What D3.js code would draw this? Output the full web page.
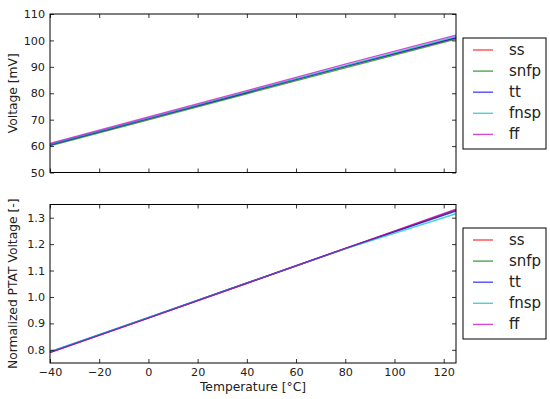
<!DOCTYPE html>
<html>
<head>
<meta charset="utf-8">
<script src="https://cdn.jsdelivr.net/npm/d3@7"></script>
<style>
  body { margin: 0; background: #fff; }
  svg { display: block; font-family: "DejaVu Sans", sans-serif; }
</style>
</head>
<body>
<svg id="chart" width="550" height="399"></svg>
<script>
var temps = [-40, 0, 40, 80, 125];

var corners = ["ss", "snfp", "tt", "fnsp", "ff"];
var cornerColors = ["#ff0000", "#008000", "#0000ff", "#00bfbf", "#bf00bf"];

// voltage [mV] per corner
var voltSS   = [60.4, 70.3, 80.2, 90.1, 100.9];
var voltSNFP = [60.1, 69.9, 79.8, 89.6, 100.5];
var voltTT   = [60.5, 70.4, 80.3, 90.2, 101.0];
var voltFNSP = [60.7, 70.6, 80.5, 90.4, 101.5];
var voltFF   = [61.0, 71.0, 81.0, 91.0, 102.0];

// normalized PTAT voltage per corner
var normSS   = [0.790, 0.921, 1.052, 1.183, 1.330];
var normSNFP = [0.790, 0.921, 1.052, 1.183, 1.328];
var normTT   = [0.792, 0.922, 1.053, 1.184, 1.325];
var normFNSP = [0.793, 0.923, 1.053, 1.182, 1.315];
var normFF   = [0.789, 0.920, 1.052, 1.184, 1.332];

var xTicks = [-40, -20, 0, 20, 40, 60, 80, 100, 120];
var voltTicks = [50, 60, 70, 80, 90, 100, 110];
var normTicks = [0.8, 0.9, 1.0, 1.1, 1.2, 1.3];

var svg = d3.select("#chart");
var left = 50, right = 456;

var x = d3.scaleLinear().domain([-40, 125]).range([left, right]);

function drawPanel(top, bottom, yDomain, yTicks, yFmt, series, yLabel, showXLabels, legendTop){
    var y = d3.scaleLinear().domain(yDomain).range([bottom, top]);
    var g = svg.append("g");

    // lines
    var line = d3.line()
        .x(function(d){ return x(d[0]); })
        .y(function(d){ return y(d[1]); });
    series.forEach(function(vals, i){
        var pts = temps.map(function(t, j){ return [t, vals[j]]; });
        g.append("path")
            .attr("d", line(pts))
            .attr("fill", "none")
            .attr("stroke", cornerColors[i])
            .attr("stroke-opacity", 0.7)
            .attr("stroke-width", 1.4);
    });

    // ticks on all four sides, pointing inward (classic matplotlib)
    var tl = 4;
    var axB = d3.axisBottom(x).tickValues(xTicks).tickSizeInner(-tl).tickSizeOuter(0)
        .tickFormat(showXLabels ? function(d){ return d < 0 ? "\u2212" + Math.abs(d) : d; } : "");
    var axT = d3.axisTop(x).tickValues(xTicks).tickSizeInner(-tl).tickSizeOuter(0).tickFormat("");
    var axL = d3.axisLeft(y).tickValues(yTicks).tickSizeInner(-tl).tickSizeOuter(0).tickFormat(yFmt);
    var axR = d3.axisRight(y).tickValues(yTicks).tickSizeInner(-tl).tickSizeOuter(0).tickFormat("");

    [[axB, "translate(0," + bottom + ")"], [axT, "translate(0," + top + ")"],
     [axL, "translate(" + left + ",0)"], [axR, "translate(" + right + ",0)"]].forEach(function(a){
        var ag = g.append("g").attr("transform", a[1]).call(a[0]);
        ag.select(".domain").remove();
        ag.selectAll("line").attr("stroke", "#000").attr("stroke-width", 0.8);
        ag.selectAll("text").attr("font-size", 11.2).attr("fill", "#222")
            .attr("font-family", "DejaVu Sans, sans-serif");
    });
    g.selectAll("text").filter(function(){ return this.textContent === ""; }).remove();
    // tick labels offset from frame
    g.selectAll("g.tick text").each(function(){
        var t = d3.select(this);
        if (t.attr("x") !== null && +t.attr("x") < 0) t.attr("x", -5);
        if (t.attr("y") !== null && +t.attr("y") > 0) t.attr("y", 5);
    });

    // frame
    g.append("rect")
        .attr("x", left).attr("y", top)
        .attr("width", right - left).attr("height", bottom - top)
        .attr("fill", "none").attr("stroke", "#000").attr("stroke-width", 1);

    // y label
    g.append("text")
        .attr("transform", "translate(17," + (top + bottom) / 2 + ") rotate(-90)")
        .attr("text-anchor", "middle")
        .attr("font-size", 12.3).attr("fill", "#222")
        .text(yLabel);

    // legend
    var lx = 463, lw = 83, lh = 111;
    var lg = svg.append("g");
    lg.append("rect").attr("x", lx).attr("y", legendTop).attr("width", lw).attr("height", lh)
        .attr("fill", "#fff").attr("stroke", "#000").attr("stroke-width", 1);
    corners.forEach(function(name, i){
        var yy = legendTop + 12 + i * 21.1;
        lg.append("line")
            .attr("x1", lx + 10).attr("x2", lx + 30)
            .attr("y1", yy).attr("y2", yy)
            .attr("stroke", cornerColors[i]).attr("stroke-opacity", 0.7)
            .attr("stroke-width", 1.4);
        lg.append("text")
            .attr("x", lx + 46).attr("y", yy + 5)
            .attr("font-size", 15).attr("fill", "#222")
            .text(name);
    });
}

drawPanel(14, 172.5, [50, 110], voltTicks, d3.format("d"),
    [voltSS, voltSNFP, voltTT, voltFNSP, voltFF], "Voltage [mV]", false, 38);

drawPanel(204.5, 363, [0.75, 1.35], normTicks, d3.format(".1f"),
    [normSS, normSNFP, normTT, normFNSP, normFF], "Normalized PTAT Voltage [-]", true, 228);

svg.append("text")
    .attr("x", (left + right) / 2).attr("y", 391)
    .attr("text-anchor", "middle")
    .attr("font-size", 12.3).attr("fill", "#222")
    .text("Temperature [\u00b0C]");
</script>
</body>
</html>
